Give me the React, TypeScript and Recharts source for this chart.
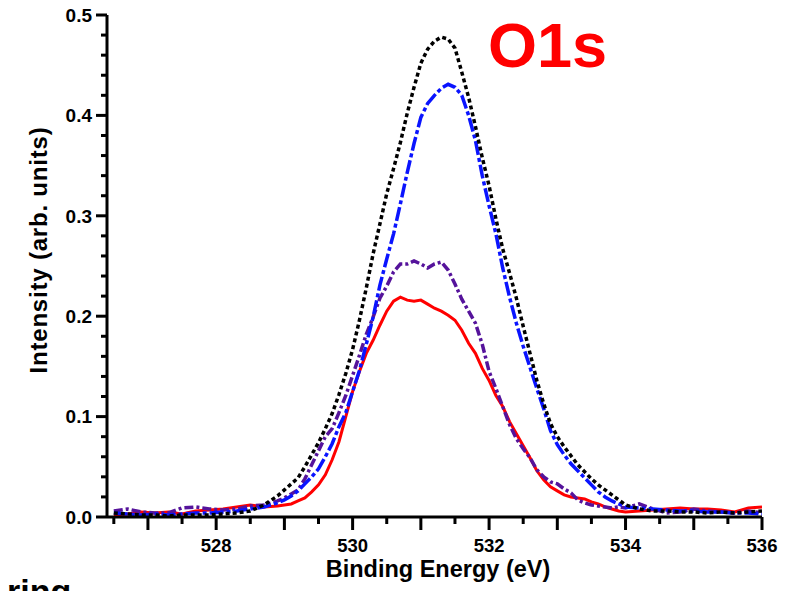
import { Line, LineChart, XAxis, YAxis } from 'recharts'

// binding energy grid (eV)
const energy = [
  526.5, 526.7, 526.9, 527.1, 527.3, 527.5, 527.7, 527.9, 528.1, 528.3, 528.5, 528.7, 528.9,
  529.0, 529.1, 529.2, 529.3, 529.4, 529.5, 529.6, 529.7, 529.8, 529.9,
  530.0, 530.1, 530.2, 530.3, 530.4, 530.5, 530.6, 530.7, 530.8, 530.9,
  531.0, 531.1, 531.2, 531.3, 531.4, 531.5, 531.6, 531.7, 531.8, 531.9,
  532.0, 532.1, 532.2, 532.3, 532.4, 532.5, 532.6, 532.7, 532.8, 532.9,
  533.0, 533.1, 533.2, 533.3, 533.4, 533.5, 533.6, 533.7, 533.8, 533.9,
  534.0, 534.2, 534.4, 534.6, 534.8, 535.0, 535.2, 535.4, 535.6, 535.8, 536.0,
]

const blackDotted = [
  0.004, 0.003, 0.002, 0.002, 0.001, 0.002, 0.002, 0.002, 0.003, 0.004, 0.006, 0.012, 0.021,
  0.027, 0.033, 0.039, 0.05, 0.062, 0.074, 0.088, 0.103, 0.122, 0.143,
  0.167, 0.196, 0.228, 0.262, 0.292, 0.322, 0.347, 0.373, 0.402, 0.428,
  0.452, 0.466, 0.474, 0.478, 0.476, 0.467, 0.443, 0.418, 0.389, 0.358,
  0.33, 0.297, 0.267, 0.243, 0.218, 0.19, 0.163, 0.136, 0.113, 0.093,
  0.08, 0.07, 0.061, 0.052, 0.045, 0.038, 0.032, 0.027, 0.022, 0.017,
  0.012, 0.008, 0.006, 0.006, 0.005, 0.005, 0.004, 0.005, 0.004, 0.005, 0.006,
]

const blueDashDot = [
  0.004, 0.003, 0.002, 0.003, 0.002, 0.003, 0.004, 0.004, 0.005, 0.006, 0.008, 0.01, 0.014,
  0.017, 0.021, 0.026, 0.033, 0.04, 0.048, 0.06, 0.073, 0.09, 0.104,
  0.125, 0.146, 0.172, 0.199, 0.231, 0.257, 0.282, 0.312, 0.343, 0.372,
  0.398, 0.412, 0.42, 0.427, 0.431, 0.428, 0.42, 0.4, 0.375, 0.34,
  0.31, 0.282, 0.248, 0.219, 0.193, 0.17, 0.149, 0.128, 0.108, 0.086,
  0.072, 0.062, 0.053, 0.046, 0.039, 0.032, 0.025, 0.02, 0.016, 0.013,
  0.01, 0.009, 0.008, 0.007, 0.006, 0.006, 0.005, 0.005, 0.004, 0.004, 0.003,
]

const purpleDash = [
  0.006, 0.008, 0.005, 0.004, 0.004, 0.009, 0.01, 0.008, 0.007, 0.008, 0.011, 0.012, 0.016,
  0.019, 0.023, 0.027, 0.038, 0.052, 0.066, 0.08, 0.088, 0.104, 0.121,
  0.141, 0.161, 0.182, 0.199, 0.218, 0.23, 0.244, 0.252, 0.252, 0.255,
  0.252, 0.248, 0.252, 0.254, 0.246, 0.232, 0.217, 0.205, 0.193, 0.172,
  0.145, 0.128, 0.11, 0.092, 0.078, 0.068, 0.059, 0.047, 0.04, 0.035,
  0.033, 0.028, 0.024, 0.017, 0.014, 0.012, 0.011, 0.01, 0.009, 0.01,
  0.009, 0.013, 0.008, 0.004, 0.005, 0.008, 0.006, 0.005, 0.004, 0.006, 0.004,
]

const redSolid = [
  0.002, 0.003, 0.005, 0.004, 0.005, 0.003, 0.006, 0.007, 0.008, 0.01, 0.012, 0.01, 0.011,
  0.012, 0.013, 0.016, 0.019, 0.025, 0.032, 0.042, 0.057, 0.075, 0.1,
  0.125, 0.145, 0.163, 0.176, 0.191, 0.205, 0.215, 0.219, 0.216, 0.215,
  0.216, 0.212, 0.208, 0.205, 0.201, 0.196, 0.186, 0.173, 0.163, 0.148,
  0.136, 0.121, 0.11, 0.095, 0.083, 0.071, 0.059, 0.046, 0.037, 0.03,
  0.026, 0.022, 0.02, 0.019, 0.018, 0.015, 0.013, 0.01, 0.008, 0.006,
  0.005, 0.006, 0.007, 0.008, 0.009, 0.008, 0.008, 0.007, 0.005, 0.009, 0.01,
]

const xTicks = [
  526.5, 527, 527.5, 528, 528.5, 529, 529.5, 530, 530.5, 531, 531.5, 532,
  532.5, 533, 533.5, 534, 534.5, 535, 535.5, 536,
]
const xLabels = [528, 530, 532, 534, 536]
const yTicks = [
  0, 0.02, 0.04, 0.06, 0.08, 0.1, 0.12, 0.14, 0.16, 0.18, 0.2, 0.22, 0.24,
  0.26, 0.28, 0.3, 0.32, 0.34, 0.36, 0.38, 0.4, 0.42, 0.44, 0.46, 0.48, 0.5,
]
const yLabels = [0, 0.1, 0.2, 0.3, 0.4, 0.5]

const data = energy.map((e, i) => ({
  e,
  black: blackDotted[i],
  blue: blueDashDot[i],
  purple: purpleDash[i],
  red: redSolid[i],
}))

const font = '"Liberation Sans", Arial, sans-serif'

function XTick({ x, y, payload }: any) {
  const v = payload.value
  const major = Number.isInteger(v)
  return (
    <g>
      <line x1={x} x2={x} y1={y} y2={y + (major ? 13 : 7)} stroke="#000" strokeWidth={3} />
      {xLabels.includes(v) && (
        <text x={x} y={y + 35} textAnchor="middle" fontFamily={font} fontWeight="bold" fontSize={18.5} fill="#000">
          {v}
        </text>
      )}
    </g>
  )
}

function YTick({ x, y, payload }: any) {
  const v = payload.value
  const major = yLabels.some((l) => Math.abs(l - v) < 1e-9)
  return (
    <g>
      <line x1={x} x2={x - (major ? 11 : 6)} y1={y} y2={y} stroke="#000" strokeWidth={3} />
      {major && (
        <text x={x - 15} y={y} dy="0.36em" textAnchor="end" fontFamily={font} fontWeight="bold" fontSize={19} fill="#000">
          {v.toFixed(1)}
        </text>
      )}
    </g>
  )
}

export default function App() {
  return (
    <div style={{ position: 'absolute', left: 0, top: 0, width: 789, height: 591, background: '#fff', overflow: 'hidden' }}>
      <LineChart width={789} height={591} data={data} margin={{ top: 15, right: 27, bottom: 44, left: 47 }}>
        <XAxis
          dataKey="e"
          type="number"
          domain={[526.4, 536]}
          ticks={xTicks}
          interval={0}
          tick={<XTick />}
          tickLine={false}
          tickSize={0}
          tickMargin={0}
          height={30}
          axisLine={{ stroke: '#000', strokeWidth: 3 }}
          allowDataOverflow
        />
        <YAxis
          type="number"
          domain={[0, 0.5]}
          ticks={yTicks}
          interval={0}
          tick={<YTick />}
          tickLine={false}
          tickSize={0}
          tickMargin={0}
          width={60}
          axisLine={{ stroke: '#000', strokeWidth: 3 }}
          allowDataOverflow
        />
        <Line type="linear" dataKey="red" stroke="#ff0000" strokeWidth={3} dot={false} isAnimationActive={false} />
        <Line type="linear" dataKey="purple" stroke="#55139b" strokeWidth={3.5} strokeDasharray="9 3 3 3" dot={false} isAnimationActive={false} />
        <Line type="linear" dataKey="blue" stroke="#0a14ff" strokeWidth={3.5} strokeDasharray="14 3 4 3" dot={false} isAnimationActive={false} />
        <Line type="linear" dataKey="black" stroke="#000" strokeWidth={3.5} strokeDasharray="4 3" dot={false} isAnimationActive={false} />
      </LineChart>
      <svg width={789} height={591} style={{ position: 'absolute', left: 0, top: 0, pointerEvents: 'none' }}>
        <text x={488} y={67} fontFamily={font} fontWeight="bold" fontSize={63} fill="#ff0000">
          O1s
        </text>
        <text x={438} y={577} textAnchor="middle" fontFamily={font} fontWeight="bold" fontSize={23.5} fill="#000">
          Binding Energy (eV)
        </text>
        <text
          x={0}
          y={0}
          transform="translate(47 250) rotate(-90)"
          textAnchor="middle"
          fontFamily={font}
          fontWeight="bold"
          fontSize={24}
          letterSpacing={0.8}
          fill="#000"
        >
          Intensity (arb. units)
        </text>
        <text x={7} y={603} fontFamily={font} fontWeight="bold" fontSize={34} fill="#000">
          ring
        </text>
      </svg>
    </div>
  )
}
